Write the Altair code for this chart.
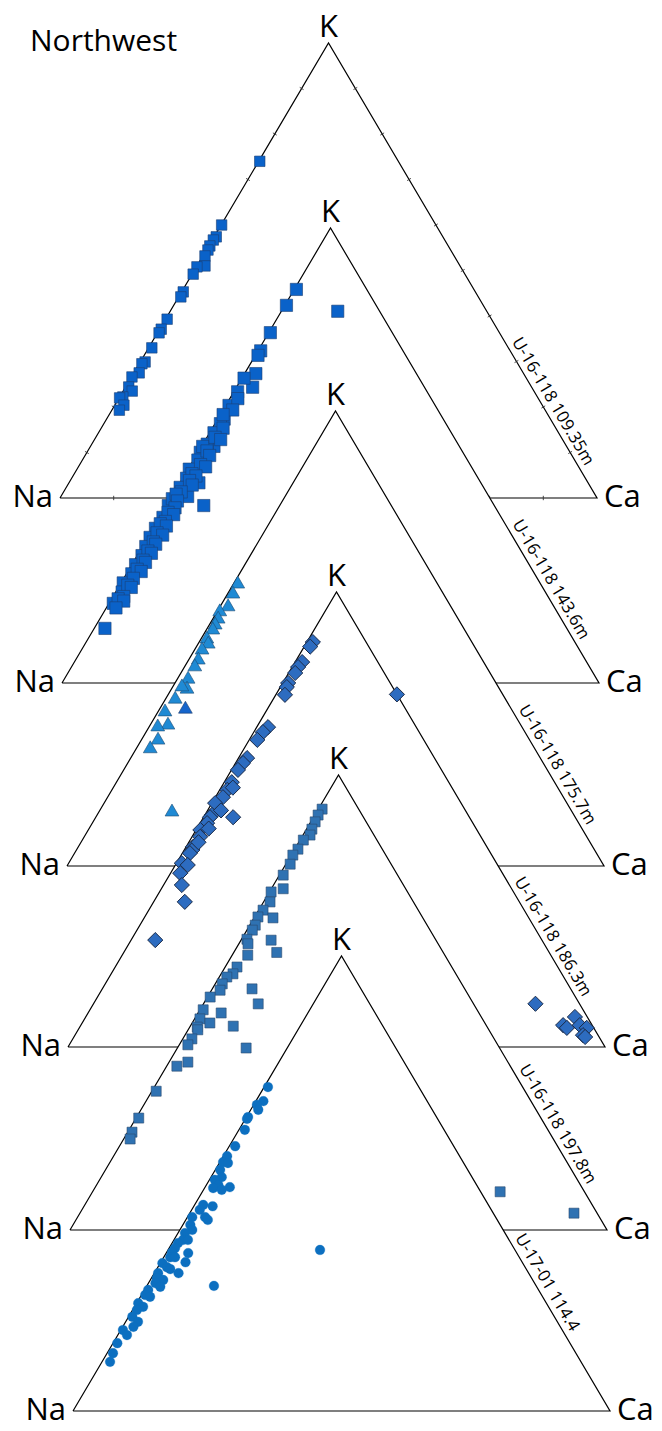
import altair as alt
import pandas as pd
import numpy as np

W, H = 662, 1431

TITLE = "Northwest"
VERTEX_NA, VERTEX_K, VERTEX_CA = "Na", "K", "Ca"
SAMPLES = ["U-16-118 109.35m", "U-16-118 143.6m", "U-16-118 175.7m",
           "U-16-118 186.3m", "U-16-118 197.8m", "U-17-01 114.4"]
TICKS = [10, 20, 30, 40, 50, 60, 70, 80, 90]

# ---- data: K %, Ca % (Na = 100 - K - Ca) ----
s1_K = [74, 60, 57.4, 56.7, 55.4, 54.5, 53.2, 51, 50.8, 49.2, 45.3, 44.2, 39.3, 37.1, 36.3,
        33, 29.9, 29.5, 27.5, 26.6, 24.4, 23.5, 22.2, 22, 20.4, 19.3]
s1_Ca = [0.2, 0.1, 0.4, 0.2, 0.2, 0.3, 0.4, 1.5, 0.1, 0.2, 0.3, 0.4, 0.3, 0.3, 0.3,
         0.6, 0.9, 0.5, 1.0, 0.1, 0.6, 1.7, 0.6, 0.1, 1.7, 1.4]

s2_K = [86.5, 83, 77, 73, 72, 81.7, 68, 65, 67, 64, 61, 58, 57, 55, 52, 52.5, 50.7, 52, 49, 47,
        44, 45, 43, 41, 39, 39, 40.5, 36.4, 34, 32, 30, 28, 26, 24, 22, 20, 17.5, 12,
        62.5, 60, 59, 56, 54, 53.5, 51, 50, 48, 47.5, 46, 45.5, 44.5, 43.5, 42, 41.5, 40,
        38.5, 37.5, 37, 35.5, 35, 34.5, 33, 32.5, 31, 30.5, 29, 28.5, 27, 26.5, 25, 24.5,
        23, 21.5, 21, 19, 18.5, 18, 16.5]
s2_Ca = [0.4, 0.3, 0.3, 0.5, 0.5, 10.5, 2.1, 3.0, 0.4, 0.7, 0.6, 1.2, 1.0, 0.8, 2.3, 0.8, 0.4,
         0.2, 0.8, 0.2, 3.5, 0.7, 0.5, 2.9, 6.9, 0.3, 0.3, 0.6, 0.4, 0.4, 0.6, 0.9, 0.7, 1.0,
         0.4, 1.2, 0.8, 2.0,
         1.5, 1.8, 0.5, 2.0, 1.5, 2.8, 1.5, 2.5, 1.8, 3.0, 1.2, 2.2, 1.5, 2.5, 1.2, 0.5, 1.5,
         1.8, 1.0, 2.3, 1.5, 0.8, 2.2, 1.2, 2.5, 1.5, 2.2, 1.5, 2.4, 1.6, 2.3, 1.5, 2.5,
         1.8, 1.5, 2.4, 2.0, 1.2, 2.5, 1.8]

s3_K = [62.4, 60.2, 57.4, 56.3, 54.7, 53.4, 52.3, 50.3, 49.2, 47.9, 45.7, 44.2, 41.5, 39.3,
        39.8, 37.1, 34.3, 31.4, 31, 28.1, 26.2, 12.3]
s3_Ca = [0.6, 0.8, 1.3, 0.3, 0.8, 0.9, 1.0, 0.9, 1.7, 1.2, 1.6, 1.7, 1.8, 2.7,
         1.5, 1.6, 1.1, 3.1, 1.4, 2.9, 2.4, 13.4]
s3b_K = [34.9]
s3b_Ca = [4.6]

s4_K = [89, 88, 84.6, 83.5, 82.2, 80, 79.1, 77.4, 70.3, 69.2, 67.5, 63.5, 62.4, 60.9, 58.2,
        56.5, 54.9, 50.5, 53.6, 51, 50.5, 49.2, 47.7, 46.2, 44, 43.3, 42.6, 40.4, 40, 38.2,
        35.6, 31.9, 23.5, 57, 52, 48, 45,
        77.5, 9.5, 4.8, 6.6, 4.2, 4.8, 4.2, 2.6, 2.2]
s4_Ca = [1.1, 1.1, 1.3, 1.1, 1.2, 1.0, 1.2, 1.7, 2.1, 1.7, 1.5, 1.6, 1.4, 1.2, 1.4,
         1.4, 1.4, 5.5, 0.6, 1.3, 1.2, 1.3, 0.8, 1.5, 1.3, 1.5, 1.4, 1.0, 2.3, 1.8,
         3.4, 5.8, 4.5, 2.2, 2.5, 2.2, 1.8,
         22.5, 82.3, 89.8, 91.1, 90.8, 92.9, 94.5, 94.6, 95.2]

s5_K = [92.5, 91.2, 89.7, 88.1, 86.8, 85.7, 83.7, 82.4, 80.4, 78, 75, 74.3, 72.1, 70.3, 68.6,
        68.8, 67, 65.9, 63.9, 62.9, 63.7, 61, 60.4, 57.8, 56.3, 55.6, 54.1, 52.7, 51.2, 53,
        49.7, 47.7, 48.4, 46.4, 45.5, 44.6, 44.8, 44, 42, 40.7, 40, 36.9, 36, 30.5, 24.6,
        21.5, 20, 8.4, 3.7]
s5_Ca = [0.7, 0.6, 0.8, 1.0, 1.3, 0.6, 0.6, 0.3, 0.8, 0.7, 2.2, 0.3, 1.2, 0.8, 3.5,
         0.6, 1.0, 1.0, 1.0, 1.7, 5.6, 8.0, 2.9, 2.2, 2.2, 1.4, 1.3, 1.6, 0.5, 7.4,
         10.2, 4.3, 0.6, 1.0, 3.3, 1.4, 8.0, 1.8, 1.7, 1.6, 12.8, 3.5, 1.9, 0.8, 0.5,
         0.8, 1.2, 75.9, 92]

s6_K = [71.2, 68.1, 67.3, 66.2, 64.6, 64.2, 61.8, 58.2, 56, 54.7, 54.5, 53, 51.4, 50.8, 49.7,
        49, 49.2, 48.6, 45.3, 45, 44.2, 42.6, 42, 42.6, 40.9, 39.8, 39.1, 37.6, 37.6, 36.9,
        35.8, 34.7, 34.9, 33.8, 33.8, 32.7, 32.5, 31.6, 31.2, 30.3, 30.3, 29.2, 28.8, 28.1,
        27.3, 26.6, 25.5, 25.1, 23.7, 22.9, 22.2, 20.7, 19.6, 18.5, 17.8, 16.7, 14.9, 12.7,
        10.8, 35.4, 27.5]
s6_Ca = [0.7, 1.4, 0.6, 1.4, 0.3, 0.3, 1.1, 1.1, 0.7, 0.6, 1.6, 0.9, 2.0, 1.0, 2.2,
         1.6, 4.6, 3.4, 1.6, 3.5, 1.5, 3.3, 4.1, 0.9, 1.4, 2.3, 1.3, 1.7, 2.6, 1.1,
         1.1, 4.1, 1.0, 1.2, 2.1, 4.6, 0.4, 1.7, 2.5, 4.5, 0.7, 1.0, 2.4, 1.3,
         2.6, 0.7, 0.7, 1.8, 0.3, 1.6, 0.8, 0.7, 2.3, 2.0, 0.4, 1.7, 0.8, 1.1,
         1.5, 28.3, 12.5]

# ---- layout (Na vertex position of each diagram, size in px) ----
ORIGIN = [(60, 498), (62, 683), (67, 866), (68, 1047), (70, 1230), (73, 1411)]
BASE, HEIGHT = 537, 455
LABEL_FRAC = [0.80, 0.785, 0.79, 0.77, 0.78, 0.73]

xs = alt.Scale(domain=[0, W], nice=False, zero=False)
ys = alt.Scale(domain=[0, H], reverse=True, nice=False, zero=False)
X = alt.X("x:Q", scale=xs, axis=None)
Y = alt.Y("y:Q", scale=ys, axis=None)


def tern(K, Ca, i):
    ox, oy = ORIGIN[i]
    K = np.asarray(K, float)
    Ca = np.asarray(Ca, float)
    return pd.DataFrame({"x": ox + BASE * (Ca + K / 2) / 100.0,
                         "y": oy - HEIGHT * K / 100.0})


styles = [
    dict(shape="square", size=110, fill="#0a62c9", stroke="#1d3f73", strokeWidth=0.6),
    dict(shape="square", size=150, fill="#0a62c9", stroke="#1d3f73", strokeWidth=0.6),
    dict(shape="triangle-up", size=190, fill="#1f8ad4", stroke="#1e4a70", strokeWidth=0.6),
    dict(shape="diamond", size=230, fill="#2d6cc0", stroke="#1b2b48", strokeWidth=1.0),
    dict(shape="square", size=100, fill="#2f72b2", stroke="#2a4a6e", strokeWidth=0.6),
    dict(shape="circle", size=95, fill="#0c6fc0", stroke="#0c6fc0", strokeWidth=0.3),
]
series = [(s1_K, s1_Ca), (s2_K, s2_Ca), (s3_K, s3_Ca), (s4_K, s4_Ca), (s5_K, s5_Ca), (s6_K, s6_Ca)]

layers = []
txt_na, txt_k, txt_ca, txt_s = [], [], [], []
for i in range(6):
    ox, oy = ORIGIN[i]
    ax, ay = ox + BASE / 2, oy - HEIGHT
    cx, cy = ox + BASE, oy
    tri_fill = pd.DataFrame({"x": [ox, ax, cx], "y": [oy, ay, cy], "y2": [oy, oy, oy]})
    layers.append(alt.Chart(tri_fill).mark_area(color="white", opacity=1, interpolate="linear")
                  .encode(x=X, y=Y, y2=alt.Y2("y2:Q")))
    tri_line = pd.DataFrame({"x": [ox, ax, cx, ox], "y": [oy, ay, cy, oy], "o": [0, 1, 2, 3]})
    layers.append(alt.Chart(tri_line).mark_line(color="black", strokeWidth=1.2, strokeJoin="miter")
                  .encode(x=X, y=Y, order="o:Q"))
    if i == 0:
        rows = []
        L = 2.2
        for t in TICKS:
            f = t / 100.0
            px, py = ox + BASE * f, oy
            rows.append((px, py - L, px, py + L))
            px, py = ox + (ax - ox) * f, oy + (ay - oy) * f
            nx, ny = -HEIGHT, -BASE / 2
            n = np.hypot(nx, ny)
            rows.append((px - L * nx / n, py - L * ny / n, px + L * nx / n, py + L * ny / n))
            px, py = ax + (cx - ax) * f, ay + (cy - ay) * f
            nx, ny = HEIGHT, -BASE / 2
            rows.append((px - L * nx / n, py - L * ny / n, px + L * nx / n, py + L * ny / n))
        tk = pd.DataFrame(rows, columns=["x", "y", "x2", "y2"])
        layers.append(alt.Chart(tk).mark_rule(color="#333333", strokeWidth=0.9)
                      .encode(x=X, y=Y, x2="x2:Q", y2="y2:Q"))
    K, Ca = series[i]
    st = styles[i]
    layers.append(alt.Chart(tern(K, Ca, i)).mark_point(filled=True, opacity=1, **st)
                  .encode(x=X, y=Y))
    if i == 2:
        layers.append(alt.Chart(tern(s3b_K, s3b_Ca, i)).mark_point(
            filled=True, opacity=1, shape="triangle-up", size=190, fill="#1565cc",
            stroke="#1e3a66", strokeWidth=0.6).encode(x=X, y=Y))
    txt_na.append({"x": ox - 7, "y": oy, "t": VERTEX_NA})
    txt_ca.append({"x": cx + 7, "y": cy, "t": VERTEX_CA})
    txt_k.append({"x": ax, "y": ay - 6, "t": VERTEX_K})
    f = LABEL_FRAC[i]
    px, py = ax + (cx - ax) * f, ay + (cy - ay) * f
    nx, ny = HEIGHT, -BASE / 2
    n = np.hypot(nx, ny)
    txt_s.append({"x": px + 2 * nx / n, "y": py + 2 * ny / n, "t": SAMPLES[i]})

FONT = "Open Sans"
angle = float(np.degrees(np.arctan2(HEIGHT, BASE / 2)))
layers.append(alt.Chart(pd.DataFrame(txt_na)).mark_text(
    font=FONT, fontSize=31, align="right", baseline="middle", color="black")
    .encode(x=X, y=Y, text="t:N"))
layers.append(alt.Chart(pd.DataFrame(txt_ca)).mark_text(
    font=FONT, fontSize=31, align="left", baseline="middle", color="black")
    .encode(x=X, y=Y, text="t:N"))
layers.append(alt.Chart(pd.DataFrame(txt_k)).mark_text(
    font=FONT, fontSize=31, align="center", baseline="alphabetic", color="black")
    .encode(x=X, y=Y, text="t:N"))
layers.append(alt.Chart(pd.DataFrame(txt_s)).mark_text(
    font=FONT, fontSize=17, align="center", baseline="bottom", angle=angle, color="black")
    .encode(x=X, y=Y, text="t:N"))
layers.append(alt.Chart(pd.DataFrame([{"x": 30, "y": 51, "t": TITLE}])).mark_text(
    font=FONT, fontSize=30, align="left", baseline="alphabetic", color="black")
    .encode(x=X, y=Y, text="t:N"))

chart = alt.layer(*layers).properties(
    width=W, height=H, padding=0, autosize=alt.AutoSizeParams(type="none"), background="white"
).configure_view(stroke=None)

chart.save("out.html", embed_options={"renderer": "svg", "actions": False})
